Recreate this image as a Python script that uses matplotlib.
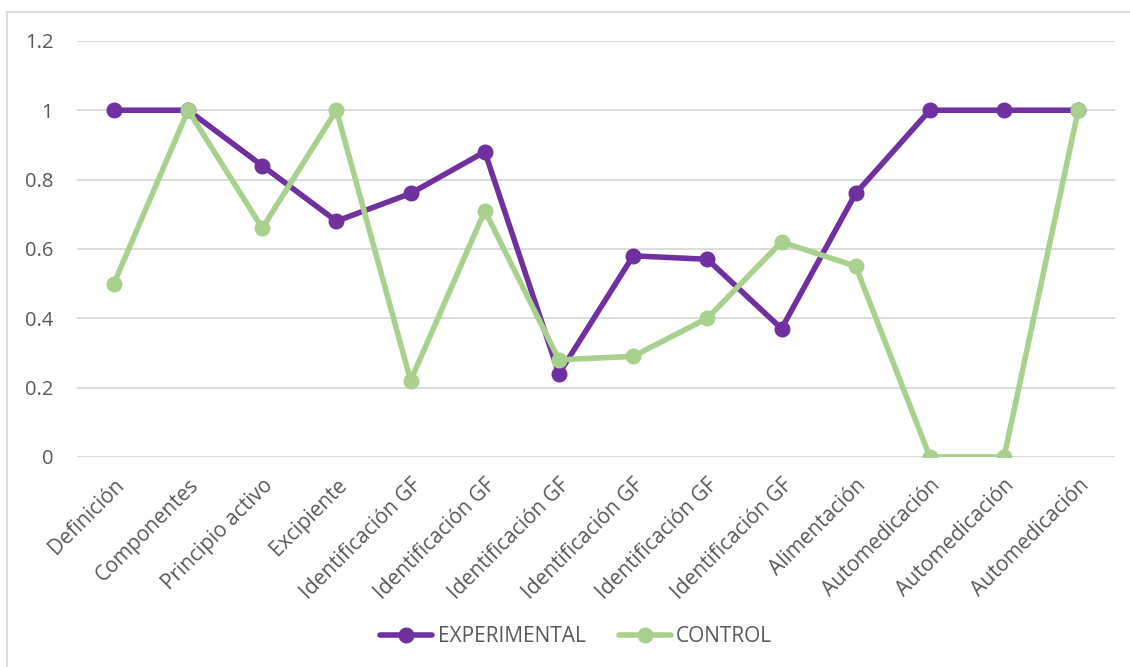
import matplotlib
matplotlib.use("Agg")
import matplotlib.pyplot as plt
from matplotlib.lines import Line2D

plt.rcParams["font.family"] = ["Open Sans", "DejaVu Sans"]

categories = [
    "Definición", "Componentes", "Principio activo", "Excipiente",
    "Identificación GF", "Identificación GF", "Identificación GF",
    "Identificación GF", "Identificación GF", "Identificación GF",
    "Alimentación", "Automedicación", "Automedicación", "Automedicación",
]
experimental = [1, 1, 0.84, 0.68, 0.76, 0.88, 0.24, 0.58, 0.57, 0.37, 0.76, 1, 1, 1]
control = [0.5, 1, 0.66, 1, 0.22, 0.71, 0.28, 0.29, 0.40, 0.62, 0.55, 0, 0, 1]
yticks = [0, 0.2, 0.4, 0.6, 0.8, 1, 1.2]
ytick_labels = ["0", "0.2", "0.4", "0.6", "0.8", "1", "1.2"]

PURPLE = "#7030a0"
GREEN = "#a9d18e"
TEXT = "#595959"
GRID = "#d9d9d9"

fig = plt.figure(figsize=(11.3, 6.67), dpi=100)
ax = fig.add_axes([0.068, 0.315, 0.919, 0.6237])

x = range(len(categories))
ax.plot(x, experimental, color=PURPLE, lw=4, marker="o", ms=10.5,
        solid_capstyle="round", label="EXPERIMENTAL", zorder=3)
ax.plot(x, control, color=GREEN, lw=4, marker="o", ms=10.5,
        solid_capstyle="round", label="CONTROL", zorder=4)

ax.set_xlim(-0.5, len(categories) - 0.5)
ax.set_ylim(0, 1.2)
ax.set_yticks(yticks)
ax.set_yticklabels(ytick_labels)
ax.set_xticks(list(x))
ax.set_xticklabels(categories, rotation=45, ha="right", rotation_mode="anchor")
ax.tick_params(axis="both", length=0, colors=TEXT)
ax.tick_params(axis="y", pad=17, labelsize=14.5)
ax.tick_params(axis="x", pad=13, labelsize=15)
ax.grid(axis="y", color=GRID, lw=1.3)
ax.set_axisbelow(True)
for s in ax.spines.values():
    s.set_visible(False)

handles = [
    Line2D([], [], color=PURPLE, lw=4, marker="o", ms=10.5, solid_capstyle="round"),
    Line2D([], [], color=GREEN, lw=4, marker="o", ms=10.5, solid_capstyle="round"),
]
fig.legend(handles, ["EXPERIMENTAL", "CONTROL"], loc="center",
           bbox_to_anchor=(0.51, 0.045), ncol=2, frameon=False,
           fontsize=15, labelcolor=TEXT, handlelength=2.5,
           handletextpad=0.25, columnspacing=1.6)

# chart area outline (left and top edges)
fig.add_artist(Line2D([7 / 1130, 7 / 1130], [0, 1 - 12 / 667],
                      transform=fig.transFigure, color=GRID, lw=1.3))
fig.add_artist(Line2D([7 / 1130, 1], [1 - 12 / 667, 1 - 12 / 667],
                      transform=fig.transFigure, color=GRID, lw=1.3))

fig.savefig("out.png", dpi=100, facecolor="white")
